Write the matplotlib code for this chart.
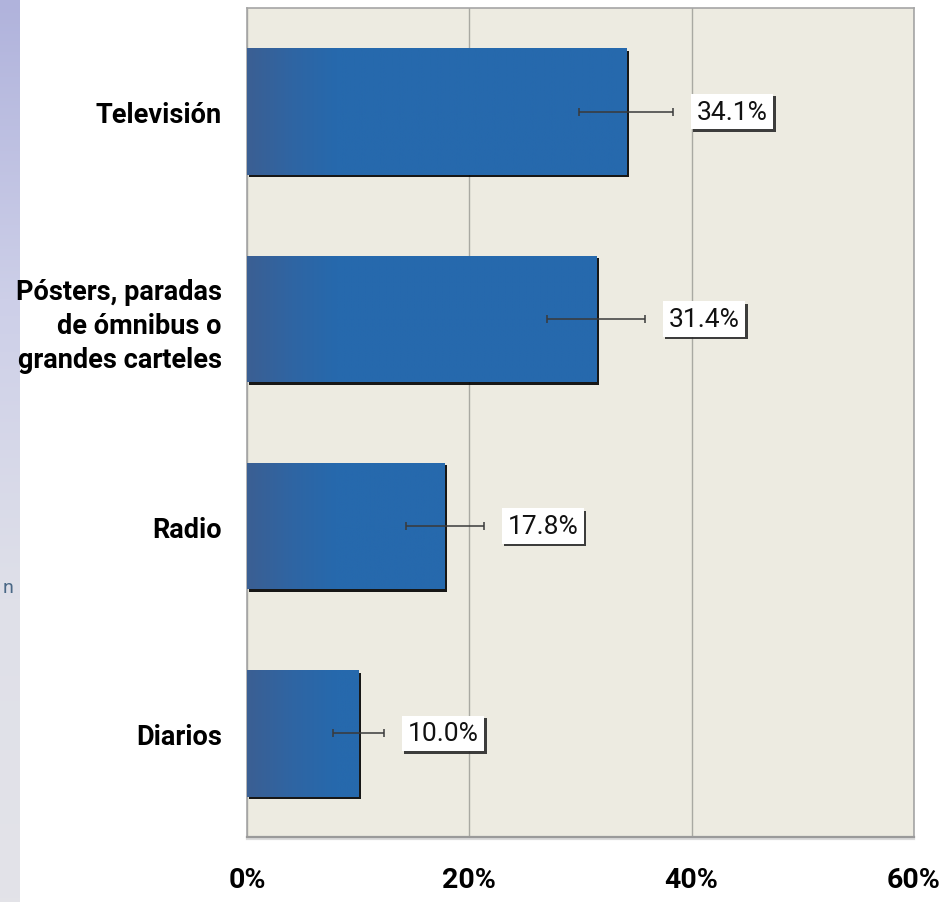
import numpy as np
import matplotlib
matplotlib.use("Agg")
import matplotlib.pyplot as plt
from matplotlib import patheffects as pe
from matplotlib.colors import LinearSegmentedColormap

# media categories, top to bottom
categories = ["Televisión", "Pósters, paradas\nde ómnibus o\ngrandes carteles", "Radio", "Diarios"]
values = [34.1, 31.4, 17.8, 10.0]
errors = [4.2, 4.4, 3.5, 2.3]
xticks = [0, 20, 40, 60]
xtick_labels = ["0%", "20%", "40%", "60%"]

narrow = ["Roboto", "DejaVu Sans"]

fig = plt.figure(figsize=(9.48, 9.03), dpi=100)
fig.patch.set_facecolor("white")

# slide background strip at the left edge
strip = fig.add_axes([0, 0, 20 / 948, 1])
grad = np.linspace(0, 1, 256).reshape(-1, 1)
strip_cmap = LinearSegmentedColormap.from_list("strip", ["#b0b3dc", "#cdcfe8", "#dfe0e8", "#e3e3e8"])
strip.imshow(grad, aspect="auto", cmap=strip_cmap, extent=[0, 1, 0, 1], origin="upper")
strip.axis("off")
fig.text(3 / 948, 1 - 588 / 903, "n", fontsize=14, color="#4a6886", va="center", ha="left", family=narrow)

ax = fig.add_axes([247 / 948, 1 - 838 / 903, (914 - 247) / 948, (838 - 9) / 903])
ax.set_facecolor("#edebe1")

y = np.arange(len(categories))
bars = ax.barh(y, values, height=0.61, color="#2669ad", zorder=3,
               path_effects=[pe.SimplePatchShadow(offset=(1.8, -1.8), shadow_rgbFace="black", alpha=0.9),
                             pe.Normal()])

# horizontal gradient inside each bar: slate at the base fading into blue
bar_cmap = LinearSegmentedColormap.from_list("bar", ["#3b5f93", "#2f65a3", "#2669ad"])
for rect, v in zip(bars, values):
    xs = np.linspace(0, v, 400)
    t = np.clip(xs / 8.0, 0, 1).reshape(1, -1)
    im = ax.imshow(t, aspect="auto", cmap=bar_cmap, vmin=0, vmax=1,
                   extent=[0, v, rect.get_y() + rect.get_height(), rect.get_y()], zorder=4)
    im.set_clip_path(rect)

ax.errorbar(values, y, xerr=errors, fmt="none", ecolor="#3a3a3a", elinewidth=1.1,
            capsize=3, capthick=1.1, zorder=5)

for yi, v, e in zip(y, values, errors):
    t = ax.annotate(f"{v:.1f}%", xy=(v + e, yi), xytext=(17, 0), textcoords="offset points",
                    ha="left", va="center", fontsize=19, family=narrow, color="#111111", zorder=6,
                    bbox=dict(boxstyle="square,pad=0.22", fc="white", ec="none"))
    t.get_bbox_patch().set_path_effects([
        pe.SimplePatchShadow(offset=(1.8, -1.8), shadow_rgbFace="#2a2a2a", alpha=0.9), pe.Normal()])

ax.set_xlim(0, 60)
ax.set_ylim(len(categories) - 0.5, -0.5)
ax.set_xticks(xticks)
ax.set_xticklabels(xtick_labels, fontsize=20.5, fontweight="bold", family=narrow)
ax.set_yticks(y)
ax.set_yticklabels(categories, fontsize=19.5, fontweight="bold", family=narrow, linespacing=1.35)
ax.tick_params(axis="x", length=0, pad=21)
ax.tick_params(axis="y", length=0, pad=18)
ax.xaxis.grid(True, color="#a9a9a2", lw=1.0, zorder=1)
ax.set_axisbelow(True)

for side in ["top", "left", "right"]:
    ax.spines[side].set_color("#a5a5a5")
    ax.spines[side].set_linewidth(1.2)
ax.spines["bottom"].set_color("#9a9a9a")
ax.spines["bottom"].set_linewidth(1.6)
ax.spines["bottom"].set_path_effects([pe.SimpleLineShadow(offset=(0, -1.5), shadow_color="#888888"), pe.Normal()])

fig.savefig("out.png", dpi=100, facecolor="white")
